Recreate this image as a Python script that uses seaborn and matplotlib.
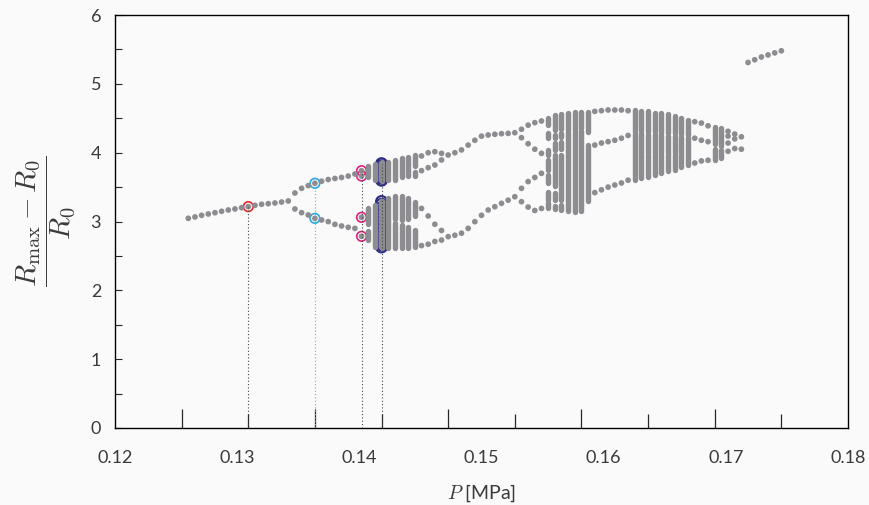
import matplotlib
matplotlib.use("Agg")
import matplotlib.pyplot as plt
import seaborn as sns
import pandas as pd
import numpy as np

# ---------------------------------------------------------------
# Bifurcation data: peak bubble radius vs. driving pressure
# ---------------------------------------------------------------
# period-1 branch
p1_P = [0.1255, 0.1260, 0.1265, 0.1270, 0.1275, 0.1280, 0.1285, 0.1290,
        0.1295, 0.1300, 0.1305, 0.1310, 0.1315, 0.1320, 0.1325, 0.1330]
p1_R = [3.046, 3.066, 3.090, 3.109, 3.128, 3.148, 3.167, 3.182,
        3.201, 3.216, 3.235, 3.250, 3.259, 3.269, 3.283, 3.298]

# period-2 branches
p2_P = [0.1335, 0.1340, 0.1345, 0.1350, 0.1355, 0.1360, 0.1365, 0.1370,
        0.1375, 0.1380]
p2_hi = [3.414, 3.482, 3.521, 3.555, 3.585, 3.610, 3.625, 3.640, 3.660, 3.690]
p2_lo = [3.182, 3.128, 3.095, 3.046, 3.022, 2.998, 2.959, 2.935, 2.916, 2.900]

# period-4 onset
p4_P = [0.1385, 0.1385, 0.1385, 0.1385]
p4_R = [3.738, 3.661, 3.061, 2.785]

# dense chaotic columns: pressure, lower end, upper end of each run of points
band_P = [
    # first chaotic band, upper part
    0.1390, 0.1395, 0.1400, 0.1405, 0.1410, 0.1415, 0.1420, 0.1425, 0.1425,
    # first chaotic band, lower part
    0.1390, 0.1390, 0.1395, 0.1400, 0.1405, 0.1410, 0.1410, 0.1415, 0.1415,
    0.1420, 0.1420, 0.1425, 0.1425,
    # second chaotic region, block A
    0.1525, 0.1525, 0.1525, 0.1525, 0.1525, 0.1525, 0.1525,
    0.1530, 0.1530, 0.1530, 0.1530, 0.1530, 0.1530,
    0.1535, 0.1535, 0.1535, 0.1535, 0.1535,
    0.1540, 0.1540, 0.1545, 0.1550, 0.1550, 0.1555, 0.1555,
    # block B
    0.1590, 0.1590, 0.1595, 0.1595, 0.1600, 0.1600, 0.1600,
    0.1605, 0.1605, 0.1610, 0.1610, 0.1610, 0.1615, 0.1615,
    0.1620, 0.1620, 0.1620, 0.1625, 0.1625, 0.1630, 0.1630,
    # right edge
    0.1650, 0.1650, 0.1655, 0.1655,
]
band_lo = [
    3.64, 3.61, 3.59, 3.61, 3.61, 3.64, 3.66, 3.80, 3.66,
    2.73, 2.97, 2.63, 2.62, 2.61, 2.61, 3.04, 2.61, 3.02,
    2.62, 3.03, 2.63, 3.08,
    4.40, 4.21, 3.97, 3.75, 3.56, 3.31, 3.20,
    4.33, 4.21, 4.04, 3.51, 3.31, 3.18,
    4.35, 4.23, 4.06, 3.31, 3.16,
    4.32, 3.15, 3.14, 4.36, 3.15, 4.30, 3.30,
    4.30, 3.60, 4.33, 3.63, 4.30, 4.00, 3.65,
    4.31, 3.68, 4.29, 3.99, 3.70, 4.28, 3.73,
    4.28, 4.00, 3.75, 4.27, 3.79, 4.25, 3.82,
    4.12, 3.90, 4.10, 3.92,
]
band_hi = [
    3.81, 3.84, 3.86, 3.87, 3.89, 3.92, 3.94, 3.97, 3.72,
    2.86, 3.19, 3.24, 3.30, 3.34, 2.98, 3.37, 2.95, 3.37,
    2.92, 3.34, 2.88, 3.28,
    4.50, 4.28, 4.04, 3.89, 3.68, 3.43, 3.27,
    4.55, 4.26, 4.14, 3.97, 3.41, 3.22,
    4.56, 4.28, 4.16, 3.97, 3.24,
    4.58, 4.28, 4.59, 4.59, 4.32, 4.59, 4.11,
    4.62, 4.27, 4.61, 4.29, 4.60, 4.26, 3.97,
    4.58, 4.27, 4.57, 4.25, 3.96, 4.56, 4.24,
    4.53, 4.24, 3.97, 4.51, 4.23, 4.48, 4.21,
    4.38, 4.05, 4.36, 4.04,
]

# period-4 window leaving the first band
w1_P = [0.1430, 0.1435, 0.1440, 0.1445] * 4
w1_R = [3.952, 3.999, 4.014, 3.990,
        3.739, 3.782, 3.821, 3.894,
        3.190, 3.080, 2.960, 2.870,
        2.650, 2.670, 2.710, 2.730]

# period-2 window
w2_P = [0.1450, 0.1455, 0.1460, 0.1465, 0.1470, 0.1475, 0.1480, 0.1485,
        0.1490, 0.1495, 0.1500]
w2_hi = [3.966, 3.999, 4.040, 4.110, 4.180, 4.240, 4.257, 4.267, 4.276,
         4.280, 4.290]
w2_lo = [2.780, 2.800, 2.830, 2.900, 2.997, 3.090, 3.167, 3.215, 3.264,
         3.310, 3.360]

# period-4 window before the second chaotic region
w3_P = [0.1505, 0.1510, 0.1515, 0.1520] * 4
w3_R = [4.340, 4.400, 4.436, 4.460,
        4.218, 4.130, 4.050, 3.990,
        3.482, 3.580, 3.640, 3.700,
        3.288, 3.210, 3.160, 3.190]

# period-3 windows inside the second chaotic region
w4_P = [0.1560, 0.1565, 0.1570, 0.1575, 0.1580, 0.1585] * 3
w4_R = [4.60, 4.61, 4.62, 4.62, 4.62, 4.61,
        4.11, 4.14, 4.16, 4.18, 4.21, 4.25,
        3.42, 3.46, 3.50, 3.53, 3.56, 3.60]
w5_P = [0.1635, 0.1640, 0.1645] * 3
w5_R = [4.45, 4.43, 4.39,
        4.21, 4.18, 4.16,
        3.85, 3.88, 3.89]

# last columns of the main region
tip_P = [0.1660, 0.1660, 0.1660, 0.1660, 0.1665, 0.1665, 0.1665, 0.1670, 0.1670]
tip_R = [4.31, 4.24, 4.14, 4.02, 4.27, 4.20, 4.06, 4.23, 4.05]

# isolated upper branch
iso_P = [0.1675, 0.1680, 0.1685, 0.1690, 0.1695, 0.1700]
iso_R = [5.31, 5.35, 5.39, 5.42, 5.45, 5.48]

# highlighted orbits
red_P, red_R = [0.1300], [3.216]
cyan_P, cyan_R = [0.1350, 0.1350], [3.555, 3.046]
mag_P, mag_R = [0.1385] * 4, [3.738, 3.661, 3.061, 2.785]
navy_R = [3.60, 3.63, 3.66, 3.69, 3.72, 3.75, 3.78, 3.81, 3.84,
          2.63, 2.66, 2.69, 2.72, 2.75, 2.78, 2.81, 2.84, 2.88, 2.93,
          2.99, 3.04, 3.09, 3.14, 3.20, 3.25, 3.29]
navy_P = [0.1400] * len(navy_R)

# axis labelling
tick_labels = ["0.12", "0.13", "0.14", "0.15", "0.16", "0.17", "0.18"]
minor_P = [0.125, 0.130, 0.135, 0.140, 0.145, 0.150, 0.155, 0.160, 0.165, 0.170]

# ---------------------------------------------------------------
frames = [
    pd.DataFrame({"P": p1_P, "R": p1_R}),
    pd.DataFrame({"P": p2_P + p2_P, "R": p2_hi + p2_lo}),
    pd.DataFrame({"P": p4_P, "R": p4_R}),
    pd.DataFrame({"P": w1_P, "R": w1_R}),
    pd.DataFrame({"P": w2_P + w2_P, "R": w2_hi + w2_lo}),
    pd.DataFrame({"P": w3_P, "R": w3_R}),
    pd.DataFrame({"P": w4_P, "R": w4_R}),
    pd.DataFrame({"P": w5_P, "R": w5_R}),
    pd.DataFrame({"P": tip_P, "R": tip_R}),
    pd.DataFrame({"P": iso_P, "R": iso_R}),
    pd.DataFrame({"P": navy_P, "R": navy_R}),
]
points = pd.concat(frames, ignore_index=True)

sns.set_theme(style="white")
plt.rcParams["font.family"] = ["Lato", "DejaVu Sans"]
plt.rcParams["mathtext.fontset"] = "cm"

BG = "#fafafa"
GRAY = "#8d8d91"
TXT = "#3a3a3a"
fig = plt.figure(figsize=(8.7, 5.05), dpi=100, facecolor=BG)
ax = fig.add_axes([115 / 870, 1 - 428 / 505, (848 - 115) / 870, (428 - 15) / 505])
ax.set_facecolor(BG)

# highlighted orbits sit under the grey points
for P, R, col, size, lw in [(red_P, red_R, "#e5262b", 48, 1.2),
                            (cyan_P, cyan_R, "#2aa8e0", 48, 1.2),
                            (mag_P, mag_R, "#e0207f", 48, 1.2),
                            (navy_P, navy_R, "#2b2d86", 62, 1.5)]:
    sns.scatterplot(x=P, y=R, ax=ax, s=size, facecolor="none", edgecolor=col,
                    linewidth=lw, zorder=2, legend=False)

# dense chaotic columns
cols = ax.vlines(band_P, band_lo, band_hi, color=GRAY, lw=3.9, zorder=3)
cols.set_capstyle("round")

sns.scatterplot(data=points, x="P", y="R", ax=ax, s=17, color=GRAY,
                edgecolor="none", linewidth=0, zorder=3, legend=False)

# dotted guides from the highlighted orbits down to the axis
for p, top, col in [(0.1300, 3.216, "#444444"), (0.1350, 3.555, "#a0a0a0"),
                    (0.1385, 3.738, "#444444"), (0.1400, 3.84, "#444444")]:
    ax.plot([p, p], [0, top], ls=(0, (1, 2)), lw=0.8, color=col, zorder=5)

ax.set_xlim(0.12, 0.175)
ax.set_ylim(0, 6)
ax.set_xticks(np.linspace(0.12, 0.175, len(tick_labels)))
ax.set_xticklabels(tick_labels)
ax.set_xticks(minor_P, minor=True)
ax.set_yticks(range(0, 7))
ax.set_yticks(np.arange(0.5, 6, 1.0), minor=True)

ax.tick_params(axis="both", which="both", bottom=True, left=True, top=False, right=False)
ax.tick_params(axis="x", which="major", length=0, pad=16, labelsize=13, labelcolor=TXT)
ax.tick_params(axis="y", which="major", direction="in", length=5, width=0.8,
               pad=10, labelsize=13, labelcolor=TXT)
ax.tick_params(axis="y", which="minor", direction="in", length=5, width=0.8)
ax.tick_params(axis="x", which="minor", direction="in", length=10, width=0.9)
# every other pressure tick is drawn longer
for i, t in enumerate(ax.xaxis.get_minor_ticks()):
    if i % 2 == 0:
        t.tick1line.set_markersize(14)
for sp in ax.spines.values():
    sp.set_color("black")
    sp.set_linewidth(1.0)

ax.set_xlabel(r"$P$ [MPa]", fontsize=14, color=TXT, labelpad=12)
ax.set_ylabel(r"$\dfrac{R_{\max}-R_0}{R_0}$", fontsize=21, color=TXT, labelpad=9)

fig.savefig("out.png", dpi=100, facecolor=BG)
